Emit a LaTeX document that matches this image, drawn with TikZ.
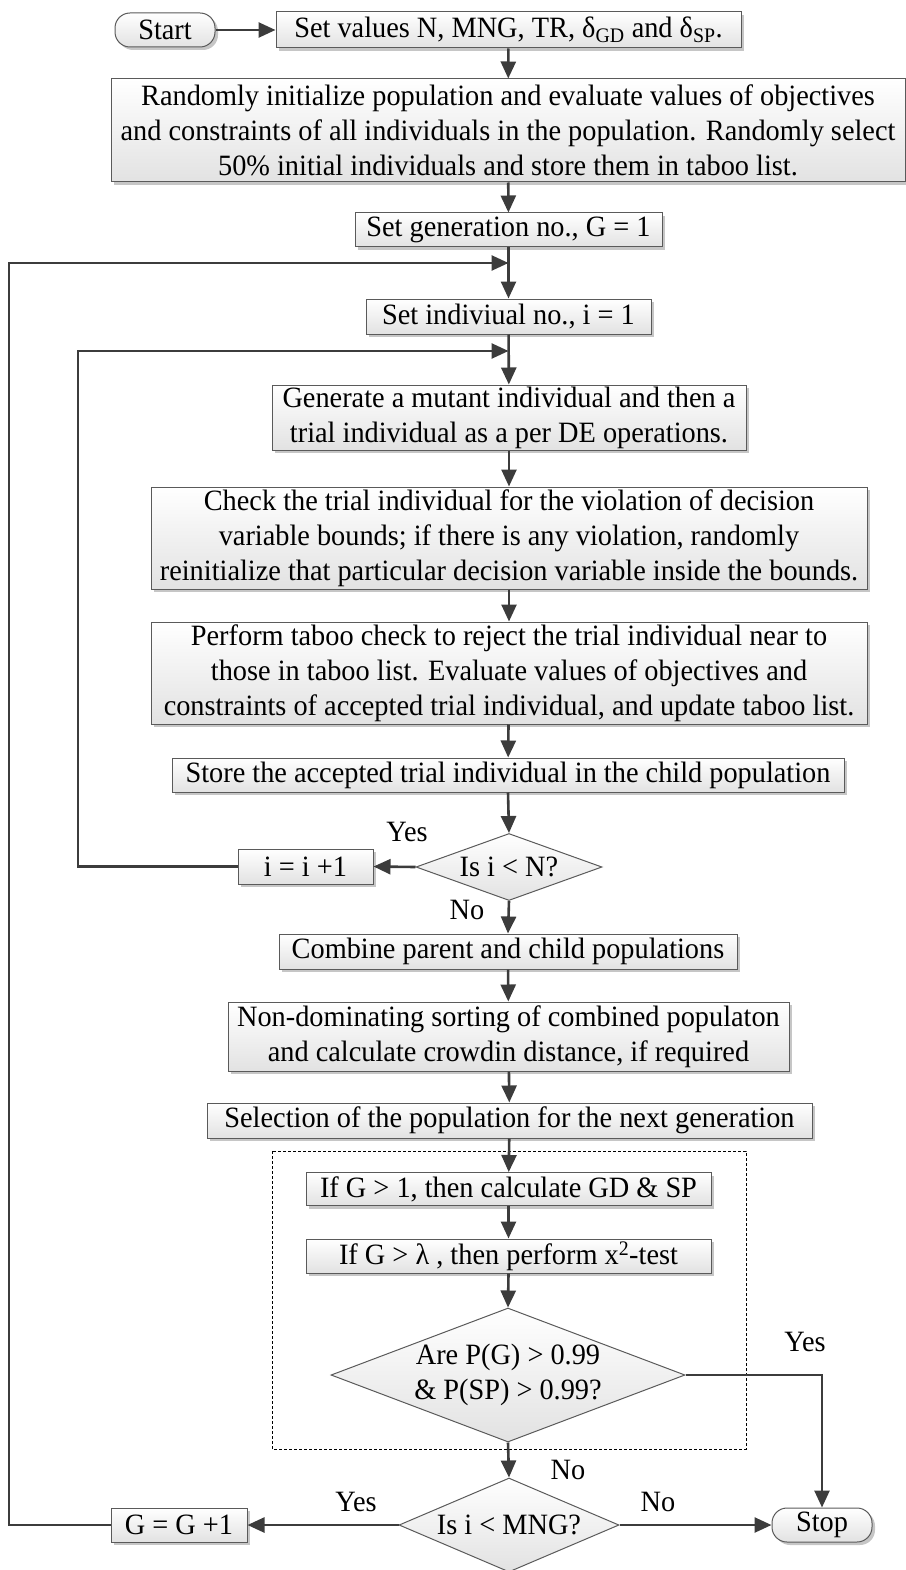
\documentclass[tikz,border=0pt]{standalone}
\usepackage{fontspec}
\setmainfont{Liberation Serif}[FakeStretch=0.96]
\usetikzlibrary{arrows.meta,shapes.geometric,shadows}

\definecolor{linegray}{HTML}{3C3C3C}
\definecolor{edgegray}{HTML}{5A5A5A}
\definecolor{fillbot}{HTML}{E2E2E2}
\definecolor{shadowgray}{HTML}{B8B8B8}

\begin{document}
\begin{tikzpicture}[x=1pt,y=-1pt,
  every node/.style={font=\fontsize{29.5}{35}\selectfont},
  boxshadow/.style={drop shadow={shadow xshift=3pt,shadow yshift=-3pt,fill=shadowgray,opacity=0.8}},
  procbox/.style={rectangle, draw=edgegray, line width=1pt, top color=white,
    bottom color=fillbot, boxshadow, inner sep=0pt, align=center},
  terminal/.style={rectangle, rounded corners=15pt, draw=edgegray, line width=1pt,
    top color=white, bottom color=fillbot, boxshadow, inner sep=0pt,
    minimum width=100pt, minimum height=34pt},
  decision/.style={diamond, draw=edgegray, line width=1pt, top color=white,
    bottom color=fillbot, inner sep=0pt},
  wire/.style={draw=linegray, line width=2.6pt, line join=miter},
  flow/.style={wire, -{Triangle[length=17pt,width=15pt]}},
  lbl/.style={inner sep=0pt},
  groupbox/.style={draw=black, line width=0.9pt, dash pattern=on 3pt off 2pt}
]
\useasboundingbox (0,0) rectangle (905,1570);

% grouped convergence test
\draw[groupbox] (272,1151) rectangle (746,1449);

% terminals
\node[terminal] (start) at (165,30) {Start};
\node[terminal] (stop) at (822,1525) {Stop};

% main sequence
\node[procbox, minimum width=465pt, minimum height=36pt] (setv) at (508.5,30)
  {Set values N, MNG, TR, δ\textsubscript{GD} and δ\textsubscript{SP}.};
\node[procbox, minimum width=794pt, minimum height=103pt] (init) at (508,130.5)
  {Randomly initialize population and evaluate values of objectives\\
   and constraints of all individuals in the population. Randomly select\\
   50\% initial individuals and store them in taboo list.};
\node[procbox, minimum width=307pt, minimum height=34pt] (setg) at (508.5,230)
  {Set generation no., G = 1};
\node[procbox, minimum width=285pt, minimum height=35pt] (seti) at (508.5,316.5)
  {Set indiviual no., i = 1};
\node[procbox, minimum width=474pt, minimum height=65pt] (gen) at (509,417.5)
  {Generate a mutant individual and then a\\
   trial individual as a per DE operations.};
\node[procbox, minimum width=716pt, minimum height=102pt] (check) at (509,538)
  {Check the trial individual for the violation of decision\\
   variable bounds; if there is any violation, randomly\\
   reinitialize that particular decision variable inside the bounds.};
\node[procbox, minimum width=716pt, minimum height=102pt] (perf) at (509,673)
  {Perform taboo check to reject the trial individual near to\\
   those in taboo list. Evaluate values of objectives and\\
   constraints of accepted trial individual, and update taboo list.};
\node[procbox, minimum width=672pt, minimum height=34pt] (store) at (508,775)
  {Store the accepted trial individual in the child population};
\node[decision, minimum width=186pt, minimum height=67pt] (dn) at (509,867)
  {\makebox[0pt]{Is i < N?}};
\node[procbox, minimum width=135pt, minimum height=35pt] (inc) at (305.5,866.5)
  {i = i +1};
\node[procbox, minimum width=458pt, minimum height=35pt] (comb) at (508,951.5)
  {Combine parent and child populations};
\node[procbox, minimum width=561pt, minimum height=69pt] (nds) at (508.5,1036.5)
  {Non-dominating sorting of combined populaton\\
   and calculate crowdin distance, if required};
\node[procbox, minimum width=605pt, minimum height=35pt] (sel) at (509.5,1120.5)
  {Selection of the population for the next generation};
\node[procbox, minimum width=405pt, minimum height=33pt] (gdsp) at (508.5,1189)
  {If G > 1, then calculate GD \& SP};
\node[procbox, minimum width=405pt, minimum height=34pt] (chi) at (508.5,1256)
  {If G > λ , then perform x\textsuperscript{2}-test};
\node[decision, minimum width=354pt, minimum height=134pt] (dp) at (508,1375)
  {\makebox[0pt]{\begin{tabular}{@{}c@{}}Are P(G) > 0.99\\ \& P(SP) > 0.99?\end{tabular}}};
\node[decision, minimum width=220pt, minimum height=94pt] (dg) at (509,1525)
  {\makebox[0pt]{Is i < MNG?}};
\node[procbox, minimum width=136pt, minimum height=34pt] (ginc) at (179,1525)
  {G = G +1};

% branch labels
\node[lbl] (yn) at (407,832) {Yes};
\node[lbl] (nn) at (467,910) {No};
\node[lbl] (yp) at (805,1342) {Yes};
\node[lbl] (np) at (568,1470) {No};
\node[lbl] (yg) at (356,1502) {Yes};
\node[lbl] (ng) at (658,1502) {No};

% junctions on the main spine and loop corners
\coordinate (jg) at (508.5,263);
\coordinate (ji) at (508.5,351);
\coordinate (lg) at (9,263);
\coordinate (li) at (78,351);

% connectors
\draw[flow] (start.east) -- (setv.west);
\draw[flow] (setv) -- (init);
\draw[flow] (init) -- (setg);
\draw[flow] (setg) -- (seti);
\draw[flow] (seti) -- (gen);
\draw[flow] (gen) -- (check);
\draw[flow] (check) -- (perf);
\draw[flow] (perf) -- (store);
\draw[flow] (store.south) -- (dn.north);
\draw[flow] (dn.west) -- (inc.east);
\draw[flow] (inc.west) -| (li) -- (ji);
\draw[flow] (dn.south) -- (comb.north);
\draw[flow] (comb) -- (nds);
\draw[flow] (nds) -- (sel);
\draw[flow] (sel) -- (gdsp);
\draw[flow] (gdsp) -- (chi);
\draw[flow] (chi.south) -- (dp.north);
\draw[flow] (dp.east) -| (stop.north);
\draw[flow] (dp.south) -- (dg.north);
\draw[flow] (dg.west) -- (ginc.east);
\draw[flow] (dg.east) -- (stop.west);
\draw[flow] (ginc.west) -| (lg) -- (jg);
\end{tikzpicture}
\end{document}
